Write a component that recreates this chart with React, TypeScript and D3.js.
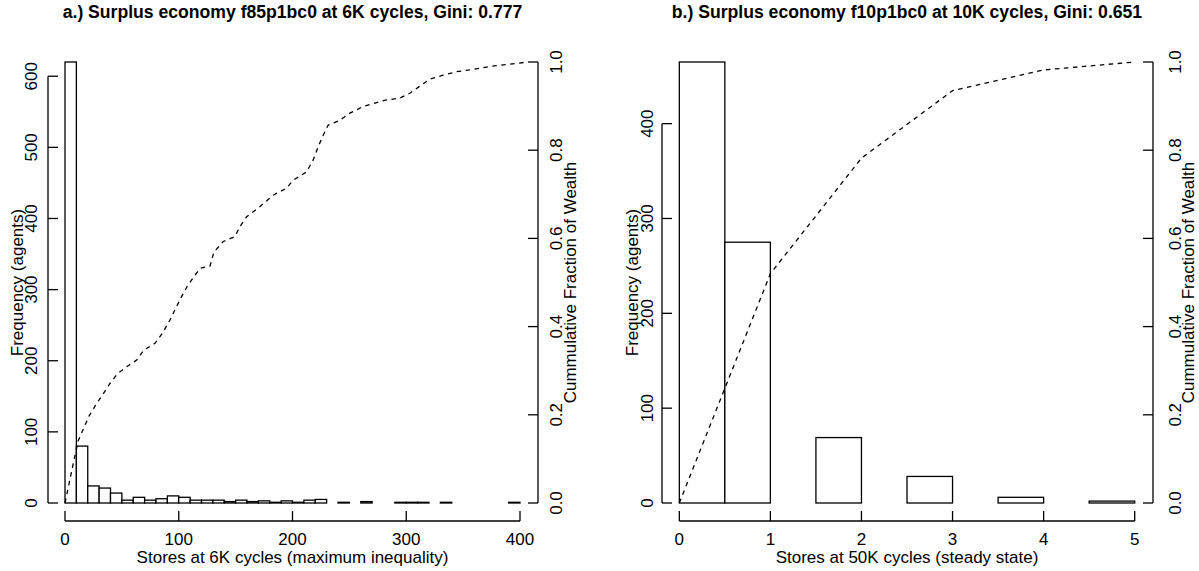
import React from "react";
import * as d3 from "d3";

// Histogram counts of agents per store bin
const storeBinsA = d3.range(0, 400, 10);
const agentCountsA = [
  620, 80, 24, 21, 14, 4, 8, 4, 6, 10,
  8, 4, 4, 4, 2, 4, 2, 3, 1, 3,
  1, 4, 5, 0, 1, 0, 2, 0, 0, 1,
  1, 1, 0, 1, 0, 0, 0, 0, 0, 1,
];
const binWidthA = 10;

const storeBinsB = d3.range(0, 5, 0.5);
const agentCountsB = [465, 275, 0, 69, 0, 28, 0, 6, 0, 2];
const binWidthB = 0.5;

// Cumulative fraction of wealth curves
const wealthXA = [
  0, 7.3, 11.6, 21.1, 27.9, 33.7, 39.5, 46.1, 54.2, 63.0, 69.4, 79.1, 85.7, 92.3, 96.6,
  102.5, 107.6, 113.3, 118.6, 127.4, 130.9, 139.1, 149.4, 153.8, 159.7, 171.3, 183.0,
  194.8, 200.6, 212.4, 218.2, 222.6, 227.0, 231.4, 241.7, 250.4, 262.1, 270.9, 282.7,
  294.3, 303.1, 313.4, 320.7, 332.4, 344.1, 355.8, 367.5, 379.3, 391.0, 406.8,
];
const wealthYA = [
  0, 0.09, 0.141, 0.197, 0.226, 0.248, 0.271, 0.293, 0.309, 0.324, 0.347, 0.362, 0.385,
  0.415, 0.438, 0.468, 0.492, 0.513, 0.532, 0.537, 0.569, 0.593, 0.604, 0.627, 0.649,
  0.672, 0.698, 0.714, 0.732, 0.751, 0.778, 0.808, 0.834, 0.857, 0.868, 0.884, 0.899,
  0.906, 0.914, 0.918, 0.929, 0.948, 0.961, 0.97, 0.978, 0.982, 0.987, 0.992, 0.995, 1.0,
];
const wealthXB = [0, 1, 2, 3, 4, 5];
const wealthYB = [0, 0.52, 0.782, 0.935, 0.982, 1.0];

// Tick values
const freqTicksA = [0, 100, 200, 300, 400, 500, 600];
const storeTicksA = [0, 100, 200, 300, 400];
const freqTicksB = [0, 100, 200, 300, 400];
const storeTicksB = [0, 1, 2, 3, 4, 5];
const fracTicks = [0, 0.2, 0.4, 0.6, 0.8, 1.0];

const titleA = "a.) Surplus economy f85p1bc0 at 6K cycles, Gini: 0.777";
const titleB = "b.) Surplus economy f10p1bc0 at 10K cycles, Gini: 0.651";
const xLabelA = "Stores at 6K cycles (maximum inequality)";
const xLabelB = "Stores at 50K cycles (steady state)";
const yLabelLeft = "Frequency (agents)";
const yLabelRight = "Cummulative Fraction of Wealth";

const FONT = "'Liberation Sans', Arial, Helvetica, sans-serif";
const TEXT_SIZE = 17;
const TITLE_SIZE = 17.6;

type PanelProps = {
  title: string;
  xLabel: string;
  bins: number[];
  counts: number[];
  binWidth: number;
  xDomain: [number, number];
  xRange: [number, number];
  xTicks: number[];
  yTicks: number[];
  curveX: number[];
  curveY: number[];
  leftAxisX: number;
  rightAxisX: number;
  leftLabelX: number;
  leftTitleX: number;
  rightLabelX: number;
  rightTitleX: number;
};

function Panel(p: PanelProps) {
  const top = 62;
  const bottom = 503;
  const x = d3.scaleLinear().domain(p.xDomain).range(p.xRange);
  const y = d3.scaleLinear().domain([0, d3.max(p.counts) as number]).range([bottom, top]);
  const frac = d3.scaleLinear().domain([0, 1]).range([bottom, top]);
  const line = d3
    .line<number>()
    .x((_, i) => x(p.curveX[i]))
    .y((d) => frac(d));
  const xAxisY = 521;
  const tick = 10;
  const midX = (p.xRange[0] + p.xRange[1]) / 2;
  const midY = (top + bottom) / 2;
  const yMaxTick = p.yTicks[p.yTicks.length - 1];

  return (
    <g>
      <text
        x={midX}
        y={12}
        textAnchor="middle"
        dominantBaseline="central"
        fontFamily={FONT}
        fontWeight="bold"
        fontSize={TITLE_SIZE}
      >
        {p.title}
      </text>

      {/* histogram bars */}
      {p.counts.map((c, i) => (
        <rect
          key={i}
          x={x(p.bins[i])}
          y={y(c)}
          width={x(p.bins[i] + p.binWidth) - x(p.bins[i])}
          height={bottom - y(c)}
          fill="white"
          stroke="black"
          strokeWidth={1.3}
        />
      ))}

      {/* cumulative wealth */}
      <path
        d={line(p.curveY) || ""}
        fill="none"
        stroke="black"
        strokeWidth={1.3}
        strokeDasharray="4.5,4.5"
      />

      {/* bottom axis */}
      <g stroke="black" strokeWidth={1.3}>
        <line x1={x(p.xTicks[0])} x2={x(p.xTicks[p.xTicks.length - 1])} y1={xAxisY} y2={xAxisY} />
        {p.xTicks.map((t) => (
          <line key={t} x1={x(t)} x2={x(t)} y1={xAxisY} y2={xAxisY - tick} />
        ))}
      </g>
      {p.xTicks.map((t) => (
        <text
          key={t}
          x={x(t)}
          y={539}
          textAnchor="middle"
          dominantBaseline="central"
          fontFamily={FONT}
          fontSize={TEXT_SIZE}
        >
          {t}
        </text>
      ))}
      <text
        x={midX}
        y={557}
        textAnchor="middle"
        dominantBaseline="central"
        fontFamily={FONT}
        fontSize={TEXT_SIZE}
      >
        {p.xLabel}
      </text>

      {/* left frequency axis */}
      <g stroke="black" strokeWidth={1.3}>
        <line x1={p.leftAxisX} x2={p.leftAxisX} y1={y(0)} y2={y(yMaxTick)} />
        {p.yTicks.map((t) => (
          <line key={t} x1={p.leftAxisX} x2={p.leftAxisX + tick} y1={y(t)} y2={y(t)} />
        ))}
      </g>
      {p.yTicks.map((t) => (
        <text
          key={t}
          transform={`translate(${p.leftLabelX},${y(t)}) rotate(-90)`}
          textAnchor="middle"
          dominantBaseline="central"
          fontFamily={FONT}
          fontSize={TEXT_SIZE}
        >
          {t}
        </text>
      ))}
      <text
        transform={`translate(${p.leftTitleX},${midY}) rotate(-90)`}
        textAnchor="middle"
        dominantBaseline="central"
        fontFamily={FONT}
        fontSize={TEXT_SIZE}
      >
        {yLabelLeft}
      </text>

      {/* right cumulative fraction axis */}
      <g stroke="black" strokeWidth={1.3}>
        <line x1={p.rightAxisX} x2={p.rightAxisX} y1={frac(0)} y2={frac(1)} />
        {fracTicks.map((t) => (
          <line key={t} x1={p.rightAxisX} x2={p.rightAxisX - tick} y1={frac(t)} y2={frac(t)} />
        ))}
      </g>
      {fracTicks.map((t) => (
        <text
          key={t}
          transform={`translate(${p.rightLabelX},${frac(t)}) rotate(-90)`}
          textAnchor="middle"
          dominantBaseline="central"
          fontFamily={FONT}
          fontSize={TEXT_SIZE}
        >
          {t.toFixed(1)}
        </text>
      ))}
      <text
        transform={`translate(${p.rightTitleX},${midY}) rotate(-90)`}
        textAnchor="middle"
        dominantBaseline="central"
        fontFamily={FONT}
        fontSize={TEXT_SIZE}
      >
        {yLabelRight}
      </text>
    </g>
  );
}

export default function App() {
  return (
    <svg
      width={1199}
      height={571}
      style={{ position: "absolute", left: 0, top: 0, background: "white" }}
    >
      <rect width={1199} height={571} fill="white" />
      <Panel
        title={titleA}
        xLabel={xLabelA}
        bins={storeBinsA}
        counts={agentCountsA}
        binWidth={binWidthA}
        xDomain={[0, 400]}
        xRange={[65, 520]}
        xTicks={storeTicksA}
        yTicks={freqTicksA}
        curveX={wealthXA}
        curveY={wealthYA}
        leftAxisX={48}
        rightAxisX={538}
        leftLabelX={31}
        leftTitleX={17}
        rightLabelX={556}
        rightTitleX={570}
      />
      <Panel
        title={titleB}
        xLabel={xLabelB}
        bins={storeBinsB}
        counts={agentCountsB}
        binWidth={binWidthB}
        xDomain={[0, 5]}
        xRange={[679.3, 1134.7]}
        xTicks={storeTicksB}
        yTicks={freqTicksB}
        curveX={wealthXB}
        curveY={wealthYB}
        leftAxisX={662}
        rightAxisX={1153}
        leftLabelX={647}
        leftTitleX={632}
        rightLabelX={1175}
        rightTitleX={1188}
      />
    </svg>
  );
}
